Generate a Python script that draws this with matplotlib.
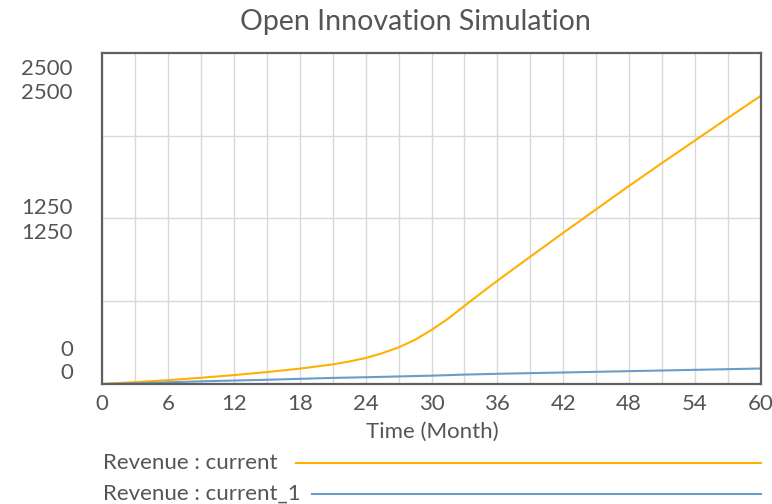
import matplotlib.pyplot as plt
import numpy as np

# months and revenue
months = [0, 3, 6, 9, 12, 15, 18, 21, 22.5, 24, 25.5, 27, 28.5, 30, 31.5, 33,
          34.5, 36, 39, 42, 45, 48, 51, 54, 57, 60]
rev_current = [0, 14, 29, 47, 67, 90, 116, 148, 170, 196, 232, 276, 334, 408,
               493, 590, 686, 780, 962, 1142, 1320, 1497, 1670, 1840, 2010,
               2178]
months_1 = [0, 3, 6, 9, 12, 15, 18, 21, 24, 27, 30, 33, 36, 39, 42, 45, 48,
            51, 54, 57, 60]
rev_current_1 = [0, 5, 13, 20, 26, 32, 39, 46, 51, 57, 63, 71, 77, 82, 87,
                 92, 97, 102, 107, 112, 117]

x_ticks = [0, 6, 12, 18, 24, 30, 36, 42, 48, 54, 60]
y_labels = ["2500", "1250", "0"]
series_names = ["Revenue : current", "Revenue : current_1"]
colors = ["#FFB000", "#6A9CC9"]

plt.rcParams['font.family'] = ['Lato', 'DejaVu Sans']
txt = "#555555"

W, H = 772, 504
fig = plt.figure(figsize=(W / 100, H / 100), dpi=100)
ax = fig.add_axes([102 / W, 1 - 384 / H, (761 - 102) / W, (384 - 53) / H])

ax.plot(months, rev_current, color=colors[0], lw=1.5)
ax.plot(months_1, rev_current_1, color=colors[1], lw=1.5)

ax.set_xlim(0, 60)
ax.set_ylim(0, 2500)
ax.set_xticks(np.arange(0, 61, 3))
ax.set_xticklabels([str(m) if m in x_ticks else "" for m in range(0, 61, 3)],
                   fontsize=16, color=txt)
ax.set_yticks([625, 1250, 1875])
ax.set_yticklabels([])
ax.tick_params(length=0, pad=7)
ax.grid(True, color="#d9d9d9", lw=1)
for s in ax.spines.values():
    s.set_color("#606060")
    s.set_linewidth(1.6)

# stacked y labels, one per series
ypos = [(69, 93), (208, 233), (350, 373)]
for lab, (y1, y2) in zip(y_labels, ypos):
    for yy in (y1, y2):
        fig.text(73 / W, 1 - yy / H, lab, ha="right", va="center",
                 fontsize=16, color=txt)

fig.text(432 / W, 1 - 432 / H, "Time (Month)", ha="center", va="center",
         fontsize=16, color=txt)
fig.text(415 / W, 1 - 22 / H, "Open Innovation Simulation", ha="center",
         va="center", fontsize=20.5, color=txt)

# legend rows
rows = [(463, 296), (494, 312)]
for name, c, (yy, x0) in zip(series_names, colors, rows):
    fig.text(103 / W, 1 - yy / H, name, ha="left", va="center",
             fontsize=16, color=txt)
    fig.add_artist(plt.Line2D([x0 / W, 761 / W], [1 - yy / H, 1 - yy / H],
                              color=c, lw=1.5))

fig.savefig("out.png", dpi=100)
